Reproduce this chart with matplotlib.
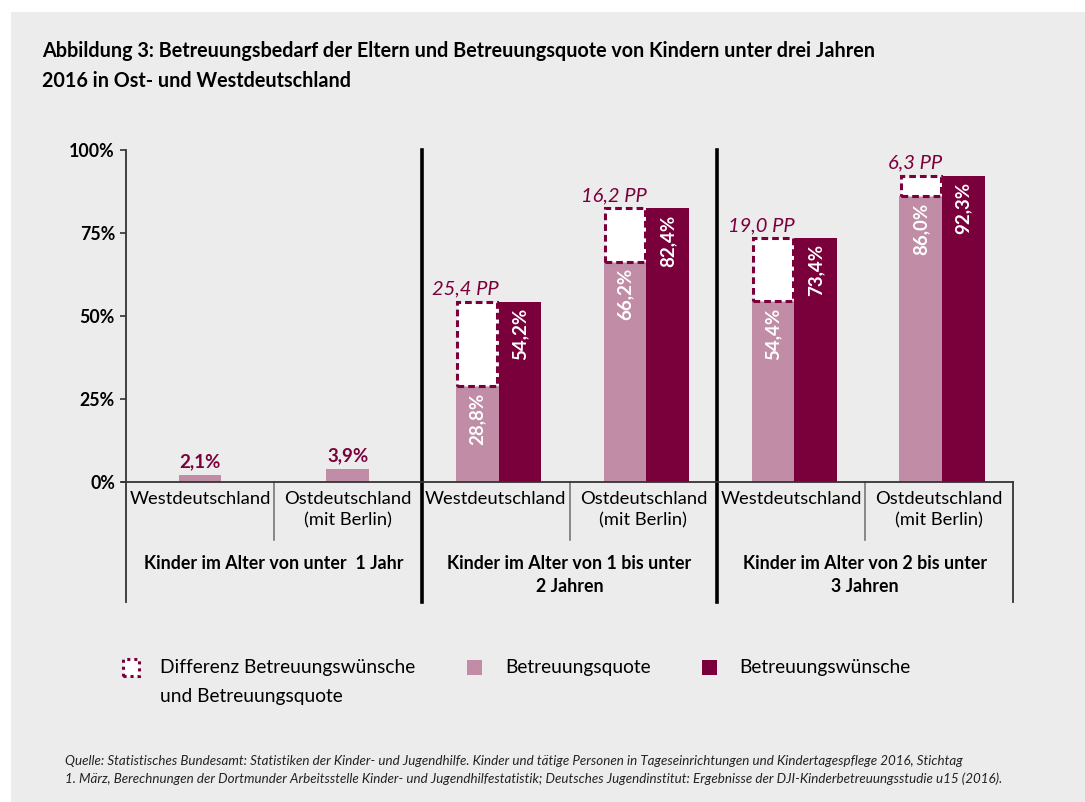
import matplotlib
matplotlib.use("Agg")
import matplotlib.pyplot as plt
from matplotlib.patches import Rectangle

# data
groups = ['Kinder im Alter von unter  1 Jahr',
          'Kinder im Alter von 1 bis unter\n2 Jahren',
          'Kinder im Alter von 2 bis unter\n3 Jahren']
regions = ['Westdeutschland', 'Ostdeutschland\n(mit Berlin)']
quote = [2.1, 3.9, 28.8, 66.2, 54.4, 86.0]
wunsch = [None, None, 54.2, 82.4, 73.4, 92.3]
diff_pp = [None, None, 25.4, 16.2, 19.0, 6.3]
yticks = [0, 25, 50, 75, 100]
legend_labels = ['Differenz Betreuungswünsche\nund Betreuungsquote', 'Betreuungsquote', 'Betreuungswünsche']

title = ('Abbildung 3: Betreuungsbedarf der Eltern und Betreuungsquote von Kindern unter drei Jahren\n'
         '2016 in Ost- und Westdeutschland')
source = ('Quelle: Statistisches Bundesamt: Statistiken der Kinder- und Jugendhilfe. Kinder und tätige Personen '
          'in Tageseinrichtungen und Kindertagespflege 2016, Stichtag\n'
          '1. März, Berechnungen der Dortmunder Arbeitsstelle Kinder- und Jugendhilfestatistik; Deutsches '
          'Jugendinstitut: Ergebnisse der DJI-Kinderbetreuungsstudie u15 (2016).')

PINK = '#c08ca6'
DARK = '#7a003c'
BG = '#ececec'
LINE = '#333333'

plt.rcParams['font.family'] = ['Lato', 'DejaVu Sans']

W, H = 1085, 802
fig = plt.figure(figsize=(W / 100, H / 100), dpi=100)
fig.patch.set_facecolor('white')


def fx(px):
    return px / W


def fy(py):
    return 1 - py / H


def pct(v):
    return f'{v:.1f}'.replace('.', ',') + '%'


fig.add_artist(Rectangle((fx(11), 0), 1 - fx(11), fy(12), transform=fig.transFigure,
                         facecolor=BG, edgecolor='none', zorder=0))

ax = fig.add_axes([fx(126), fy(482), fx(1013) - fx(126), fy(150) - fy(482)])
ax.set_facecolor('none')
ax.set_xlim(0, 6)
ax.set_ylim(0, 100)
for s in ax.spines.values():
    s.set_visible(False)
ax.set_xticks([])
ax.set_yticks(yticks)
ax.set_yticklabels([f'{t}%' for t in yticks], fontsize=12.8, fontweight='bold')
ax.tick_params(axis='y', length=4, width=1.2, color=LINE, pad=4)

bottom = -36.2
w = 0.288

for i, q in enumerate(quote):
    if wunsch[i] is None:
        ax.bar(i + 0.5, q, width=w, color=PINK, zorder=2)
        ax.text(i + 0.5, q + 1.3, pct(q), ha='center', va='bottom', color=DARK,
                fontsize=13.5, fontweight='bold')
        continue
    xp = i + 0.376
    xd = i + 0.664
    ax.bar(xp, q, width=w, color=PINK, zorder=2)
    ax.bar(xd, wunsch[i], width=w, color=DARK, zorder=2)
    ax.add_patch(Rectangle((xp - w / 2 + 0.008, q), w - 0.016, wunsch[i] - q, facecolor='white',
                           edgecolor=DARK, linewidth=2.2, linestyle=(0, (2.2, 1.3)), zorder=3))
    ax.text(xp, q - 1.8, pct(q), rotation=90, ha='center', va='top', color='white',
            fontsize=13.5, fontweight='bold', zorder=4)
    ax.text(xd, wunsch[i] - 1.8, pct(wunsch[i]), rotation=90, ha='center', va='top', color='white',
            fontsize=13.5, fontweight='bold', zorder=4)
    ax.text(xp + w / 2, wunsch[i] + 1.3, f'{diff_pp[i]:.1f}'.replace('.', ',') + ' PP',
            ha='right', va='bottom', color=DARK, fontsize=14.5, fontstyle='italic')

# frame lines of the category table
ax.plot([0, 0], [100, bottom], color=LINE, lw=1.3, clip_on=False)
ax.plot([-0.027, 6], [0, 0], color=LINE, lw=1.3, clip_on=False, zorder=5)
ax.plot([6, 6], [0, bottom], color=LINE, lw=1.3, clip_on=False)
for g in (2, 4):
    ax.plot([g, g], [100, bottom], color='black', lw=2.6, clip_on=False)
for g in (1, 3, 5):
    ax.plot([g, g], [0, -17.5], color='#777777', lw=1.2, clip_on=False)

for i in range(6):
    ax.text(i + 0.5, -2.6, regions[i % 2], ha='center', va='top', fontsize=13.2,
            linespacing=1.4, clip_on=False)
for g, name in enumerate(groups):
    ax.text(2 * g + 1, -22.0, name, ha='center', va='top', fontsize=12.8, fontweight='bold',
            linespacing=1.45, clip_on=False)

fig.text(fx(42), fy(41), title, ha='left', va='top', fontsize=14.2, fontweight='bold', linespacing=1.65)

# legend
fig.add_artist(Rectangle((fx(123), fy(676)), fx(16), fy(659) - fy(676), transform=fig.transFigure,
                         facecolor='white', edgecolor=DARK, linewidth=2.2, linestyle=(0, (1, 1.3))))
fig.add_artist(Rectangle((fx(467), fy(675)), fx(15), fy(660) - fy(675), transform=fig.transFigure,
                         facecolor=PINK, edgecolor='none'))
fig.add_artist(Rectangle((fx(702), fy(675)), fx(15), fy(660) - fy(675), transform=fig.transFigure,
                         facecolor=DARK, edgecolor='none'))
for px, lab in zip((160, 505, 739), legend_labels):
    fig.text(fx(px), fy(659), lab, ha='left', va='top', fontsize=13.8, linespacing=1.85)

fig.text(fx(65), fy(755), source, ha='left', va='top', fontsize=9.6, fontstyle='italic',
         linespacing=1.5, color='#222222')

fig.savefig('out.png', dpi=100, facecolor=fig.get_facecolor())
